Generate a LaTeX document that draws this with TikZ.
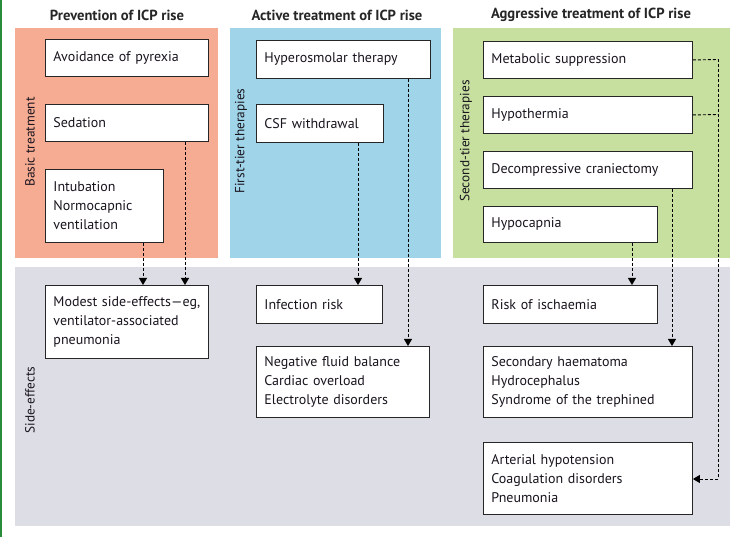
\documentclass[tikz,border=0pt]{standalone}
\usepackage{fontspec}
\setmainfont{PT Sans}
\usetikzlibrary{arrows.meta}
\definecolor{redbg}{RGB}{246,172,146}
\definecolor{bluebg}{RGB}{160,212,232}
\definecolor{greenbg}{RGB}{199,224,160}
\definecolor{greybg}{RGB}{221,221,230}
\definecolor{txt}{RGB}{25,20,30}
\definecolor{frame}{RGB}{40,140,60}
\tikzset{
  box/.style={draw=black!85, line width=0.9pt, fill=white, anchor=north west, inner xsep=8pt, inner ysep=0pt,
    align=left, font=\fontsize{14}{19}\selectfont, text=txt},
  title/.style={font=\bfseries\fontsize{14.6}{16}\selectfont, text=black!85},
  side/.style={rotate=90, font=\fontsize{13.3}{15}\selectfont, text=txt},
  conn/.style={dashed, dash pattern=on 3pt off 2pt, line width=0.9pt, -{Triangle[length=7pt,width=8pt]}},
  link/.style={dashed, dash pattern=on 3pt off 2pt, line width=0.9pt}
}
\newcommand{\bx}[6]{% name, x, y, w, h, text
  \node[box, minimum width=#4pt, minimum height=#5pt, text width=#4pt-16pt] (#1) at (#2,#3) {#6};}
\begin{document}
\begin{tikzpicture}[x=1pt,y=-1pt]
\useasboundingbox[fill=white] (0,0) rectangle (740,537);
\fill[frame] (0,0) rectangle (1.5,537);
% panels
\fill[redbg] (15,28) rectangle (218,258);
\fill[bluebg] (230,28) rectangle (441,258);
\fill[greenbg] (453,28) rectangle (730,258);
\fill[greybg] (15,267) rectangle (730,526);
% titles
\node[title] (t1) at (117,15) {Prevention of ICP rise};
\node[title] (t2) at (337,15) {Active treatment of ICP rise};
\node[title] (t3) at (591,15) {Aggressive treatment of ICP rise};
% side labels
\node[side] (s1) at (30,142) {Basic treatment};
\node[side] (s2) at (241,141) {First-tier therapies};
\node[side] (s3) at (466,141) {Second-tier therapies};
\node[side] (s4) at (30,400) {Side-effects};
% boxes column 1
\bx{avoid}{45}{39}{163}{37}{Avoidance of pyrexia}
\bx{sed}{45}{104}{163}{37}{Sedation}
\bx{intub}{45}{169}{118}{73}{Intubation\\Normocapnic\\ventilation}
\bx{modest}{45}{285}{163}{73}{Modest side-effects---eg,\\ventilator-associated\\pneumonia}
% column 2
\bx{hyper}{256}{40}{174}{38}{Hyperosmolar therapy}
\bx{csf}{256}{104}{127}{38}{CSF withdrawal}
\bx{inf}{256}{285}{126}{38}{Infection risk}
\bx{neg}{256}{346}{173}{71}{Negative fluid balance\\Cardiac overload\\Electrolyte disorders}
% column 3
\bx{meta}{483}{41}{209}{37}{Metabolic suppression}
\bx{hypoth}{483}{96}{209}{37}{Hypothermia}
\bx{decomp}{483}{151}{209}{37}{Decompressive craniectomy}
\bx{hypoc}{483}{206}{174}{36}{Hypocapnia}
\bx{risk}{483}{285}{174}{38}{Risk of ischaemia}
\bx{sec}{483}{346}{209}{71}{Secondary haematoma\\Hydrocephalus\\Syndrome of the trephined}
\bx{art}{483}{442}{209}{72}{Arterial hypotension\\Coagulation disorders\\Pneumonia}
% connectors
\draw[conn] (sed.south -| 185,0) -- (modest.north -| 185,0);
\draw[conn] (intub.south -| 143,0) -- (modest.north -| 143,0);
\draw[conn] (csf.south -| 358,0) -- (inf.north -| 358,0);
\draw[conn] (hyper.south -| 408,0) -- (neg.north -| 408,0);
\draw[conn] (hypoc.south -| 632,0) -- (risk.north -| 632,0);
\draw[conn] (decomp.south -| 672,0) -- (sec.north -| 672,0);
\coordinate (jt) at (718,59.5);
\coordinate (jm) at (718,114.5);
\coordinate (jb) at (718,479);
\draw[link] (meta.east) -- (jt);
\draw[link] (hypoth.east) -- (jm);
\draw[conn] (jt) -- (jb) -- (art.east |- jb);
\end{tikzpicture}
\end{document}
